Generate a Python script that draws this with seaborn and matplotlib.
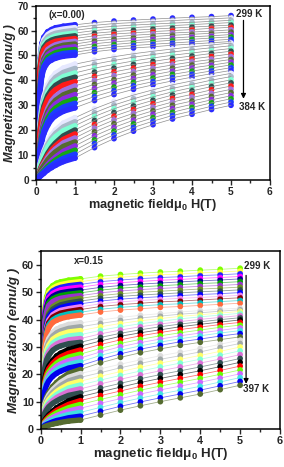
import matplotlib
matplotlib.use("Agg")
import matplotlib.pyplot as plt
from matplotlib.ticker import MultipleLocator
import seaborn as sns
import pandas as pd

# field grid (T) shared by every M(H) curve
H_GRID = [0, 0.05, 0.1, 0.15, 0.2, 0.3, 0.4, 0.5, 0.7, 1.0,
          1.5, 2.0, 2.5, 3.0, 3.5, 4.0, 4.5, 5.0]

# x = 0.00, 299 K (first row) ... 384 K (last row), emu/g
M_X000 = [
    [0, 28.0, 48.6, 54.8, 57.3, 59.5, 60.4, 61.1, 61.7, 62.3, 63.2, 63.8, 64.2, 64.6, 65.0, 65.3, 65.6, 66.0],
    [0, 27.5, 47.7, 53.9, 56.3, 58.4, 59.4, 60.0, 60.6, 61.2, 62.1, 62.8, 63.2, 63.6, 64.0, 64.4, 64.7, 65.1],
    [0, 27.0, 46.9, 52.9, 55.3, 57.4, 58.3, 58.9, 59.5, 60.1, 61.1, 61.7, 62.2, 62.6, 63.0, 63.3, 63.7, 64.1],
    [0, 26.6, 46.0, 51.9, 54.3, 56.3, 57.2, 57.8, 58.4, 59.0, 60.0, 60.7, 61.2, 61.6, 62.0, 62.4, 62.8, 63.2],
    [0, 26.1, 45.2, 51.0, 53.3, 55.3, 56.2, 56.7, 57.3, 57.9, 58.9, 59.6, 60.1, 60.6, 61.0, 61.4, 61.8, 62.2],
    [0, 25.6, 44.3, 50.0, 52.3, 54.2, 55.1, 55.7, 56.2, 56.8, 57.9, 58.6, 59.1, 59.6, 60.0, 60.4, 60.9, 61.3],
    [0, 21.2, 39.0, 46.2, 49.6, 52.4, 53.5, 54.3, 55.1, 55.7, 56.8, 57.5, 58.1, 58.6, 59.0, 59.4, 59.8, 60.3],
    [0, 20.7, 38.2, 45.3, 48.6, 51.3, 52.4, 53.2, 54.1, 54.6, 55.8, 56.5, 57.1, 57.6, 58.1, 58.5, 58.9, 59.4],
    [0, 20.3, 37.5, 44.4, 47.6, 50.3, 51.4, 52.2, 53.0, 53.5, 54.7, 55.5, 56.0, 56.5, 57.0, 57.5, 57.9, 58.4],
    [0, 19.9, 36.7, 43.5, 46.6, 49.3, 50.3, 51.1, 51.9, 52.4, 53.6, 54.4, 55.1, 55.6, 56.1, 56.5, 57.0, 57.5],
    [0, 19.5, 35.9, 42.6, 45.7, 48.2, 49.2, 50.0, 50.8, 51.3, 52.5, 53.4, 54.0, 54.5, 55.0, 55.5, 56.0, 56.5],
    [0, 19.1, 35.1, 41.7, 44.7, 47.2, 48.2, 48.9, 49.7, 50.2, 51.5, 52.4, 53.0, 53.5, 54.1, 54.6, 55.1, 55.6],
    [0, 11.6, 22.3, 29.3, 33.5, 38.1, 40.9, 42.8, 44.9, 46.5, 48.1, 49.5, 50.7, 51.7, 52.6, 53.5, 54.2, 55.0],
    [0, 11.2, 21.5, 28.2, 32.3, 36.7, 39.4, 41.2, 43.2, 44.8, 46.5, 48.0, 49.3, 50.4, 51.4, 52.3, 53.1, 53.9],
    [0, 10.8, 20.6, 27.1, 31.0, 35.3, 37.8, 39.6, 41.5, 43.0, 44.9, 46.4, 47.8, 49.0, 50.1, 51.0, 51.9, 52.8],
    [0, 10.3, 19.8, 26.0, 29.7, 33.9, 36.3, 38.0, 39.9, 41.3, 43.3, 44.9, 46.4, 47.6, 48.8, 49.8, 50.8, 51.7],
    [0, 9.9, 19.0, 24.9, 28.4, 32.4, 34.8, 36.3, 38.1, 39.5, 41.6, 43.4, 44.9, 46.3, 47.5, 48.6, 49.6, 50.6],
    [0, 7.6, 15.1, 20.4, 24.2, 28.7, 31.8, 33.6, 35.9, 37.8, 40.0, 41.9, 43.5, 44.9, 46.2, 47.4, 48.4, 49.5],
    [0, 7.2, 14.4, 19.4, 23.0, 27.4, 30.2, 32.0, 34.2, 36.0, 38.4, 40.3, 42.1, 43.6, 44.9, 46.2, 47.3, 48.4],
    [0, 6.9, 13.7, 18.5, 22.0, 26.1, 28.8, 30.5, 32.6, 34.3, 36.8, 38.9, 40.7, 42.2, 43.7, 45.0, 46.1, 47.3],
    [0, 6.5, 13.0, 17.6, 20.8, 24.7, 27.3, 28.9, 30.9, 32.5, 35.1, 37.3, 39.2, 40.9, 42.4, 43.7, 45.0, 46.2],
    [0, 6.2, 12.3, 16.6, 19.7, 23.4, 25.9, 27.4, 29.3, 30.8, 33.5, 35.8, 37.8, 39.5, 41.1, 42.5, 43.8, 45.1],
    [0, 5.8, 11.6, 15.7, 18.6, 22.0, 24.4, 25.8, 27.6, 29.0, 31.9, 34.3, 36.4, 38.2, 39.8, 41.3, 42.7, 44.0],
    [0, 3.0, 6.3, 9.0, 11.5, 15.3, 18.0, 20.0, 22.8, 25.0, 28.6, 31.6, 34.1, 36.2, 38.2, 39.8, 41.4, 42.8],
    [0, 2.8, 5.9, 8.4, 10.8, 14.3, 16.8, 18.7, 21.3, 23.4, 27.0, 30.1, 32.6, 34.8, 36.8, 38.4, 40.1, 41.5],
    [0, 2.6, 5.5, 7.8, 10.0, 13.3, 15.7, 17.4, 19.8, 21.8, 25.5, 28.6, 31.2, 33.4, 35.4, 37.1, 38.7, 40.2],
    [0, 2.0, 4.0, 6.0, 7.6, 10.7, 13.1, 14.9, 17.7, 20.1, 23.9, 27.1, 29.7, 32.0, 34.1, 35.8, 37.5, 39.0],
    [0, 1.9, 3.7, 5.6, 7.0, 9.8, 12.0, 13.7, 16.3, 18.5, 22.3, 25.6, 28.3, 30.6, 32.7, 34.4, 36.2, 37.7],
    [0, 1.7, 3.4, 5.1, 6.4, 9.0, 11.0, 12.5, 14.9, 16.9, 20.8, 24.1, 26.8, 29.2, 31.3, 33.1, 34.8, 36.4],
    [0, 1.5, 3.1, 4.6, 5.8, 8.1, 9.9, 11.3, 13.5, 15.3, 19.3, 22.6, 25.4, 27.8, 30.0, 31.7, 33.5, 35.1],
    [0, 1.1, 2.2, 3.3, 4.2, 6.2, 7.8, 9.2, 11.5, 13.7, 17.7, 21.1, 24.0, 26.4, 28.6, 30.4, 32.2, 33.8],
    [0, 1.0, 1.9, 2.9, 3.7, 5.4, 6.8, 8.0, 10.1, 12.0, 16.1, 19.6, 22.5, 25.0, 27.2, 29.1, 31.0, 32.6],
    [0, 0.8, 1.7, 2.5, 3.2, 4.7, 5.9, 7.0, 8.7, 10.4, 14.6, 18.1, 21.1, 23.6, 25.9, 27.7, 29.6, 31.3],
    [0, 0.7, 1.4, 2.1, 2.7, 4.0, 5.0, 5.9, 7.4, 8.8, 13.0, 16.6, 19.6, 22.2, 24.5, 26.4, 28.3, 30.0],
]

# x = 0.15, 299 K (first row) ... 397 K (last row), emu/g
M_X015 = [
    [0, 27.5, 43.9, 48.3, 50.8, 52.4, 53.3, 53.8, 54.4, 54.9, 55.9, 56.5, 57.0, 57.4, 57.7, 58.1, 58.4, 58.8],
    [0, 27.0, 43.1, 47.4, 49.9, 51.5, 52.3, 52.8, 53.4, 53.9, 54.9, 55.5, 56.0, 56.4, 56.7, 57.1, 57.4, 57.8],
    [0, 26.5, 42.3, 46.6, 48.9, 50.5, 51.3, 51.8, 52.4, 52.9, 53.9, 54.5, 55.0, 55.4, 55.7, 56.1, 56.4, 56.8],
    [0, 26.0, 41.5, 45.7, 48.0, 49.6, 50.3, 50.9, 51.4, 51.9, 52.9, 53.5, 54.0, 54.4, 54.7, 55.1, 55.4, 55.8],
    [0, 25.4, 40.6, 44.7, 47.0, 48.5, 49.3, 49.8, 50.3, 50.8, 51.8, 52.5, 53.0, 53.4, 53.8, 54.2, 54.5, 54.9],
    [0, 24.9, 39.8, 43.8, 46.1, 47.6, 48.3, 48.8, 49.3, 49.8, 50.8, 51.5, 52.0, 52.4, 52.8, 53.2, 53.5, 53.9],
    [0, 24.4, 39.0, 42.9, 45.1, 46.6, 47.3, 47.8, 48.3, 48.8, 49.8, 50.5, 51.0, 51.4, 51.8, 52.2, 52.5, 52.9],
    [0, 20.1, 34.4, 39.7, 42.5, 44.7, 45.6, 46.4, 47.1, 47.8, 48.8, 49.5, 50.0, 50.4, 50.8, 51.2, 51.5, 51.9],
    [0, 19.7, 33.7, 38.8, 41.7, 43.8, 44.7, 45.4, 46.1, 46.8, 47.8, 48.5, 49.0, 49.4, 49.8, 50.2, 50.5, 50.9],
    [0, 19.2, 33.0, 38.0, 40.8, 42.8, 43.7, 44.4, 45.1, 45.8, 46.8, 47.5, 48.0, 48.4, 48.8, 49.2, 49.5, 49.9],
    [0, 18.8, 32.2, 37.1, 39.8, 41.8, 42.7, 43.4, 44.0, 44.7, 45.8, 46.5, 47.0, 47.4, 47.8, 48.1, 48.5, 48.9],
    [0, 18.4, 31.5, 36.3, 38.9, 40.9, 41.7, 42.4, 43.0, 43.7, 44.8, 45.5, 46.0, 46.5, 46.8, 47.2, 47.6, 48.0],
    [0, 17.9, 30.7, 35.4, 38.0, 39.9, 40.8, 41.4, 42.1, 42.7, 43.8, 44.5, 45.0, 45.5, 45.8, 46.2, 46.6, 47.0],
    [0, 17.5, 30.0, 34.6, 37.1, 39.0, 39.8, 40.4, 41.1, 41.7, 42.8, 43.5, 44.0, 44.5, 44.8, 45.2, 45.6, 46.0],
    [0, 17.5, 27.2, 31.0, 33.0, 35.3, 36.5, 37.2, 38.2, 38.8, 39.9, 40.8, 41.6, 42.2, 42.8, 43.3, 43.8, 44.2],
    [0, 16.8, 26.2, 29.9, 31.8, 34.0, 35.2, 35.9, 36.8, 37.4, 38.6, 39.7, 40.6, 41.3, 42.0, 42.5, 43.1, 43.6],
    [0, 16.2, 25.2, 28.8, 30.6, 32.8, 33.8, 34.6, 35.5, 36.0, 37.4, 38.6, 39.6, 40.4, 41.2, 41.8, 42.4, 43.0],
    [0, 15.5, 24.2, 27.6, 29.3, 31.4, 32.4, 33.1, 34.0, 34.5, 36.1, 37.4, 38.5, 39.4, 40.3, 41.0, 41.7, 42.3],
    [0, 14.9, 23.2, 26.5, 28.1, 30.1, 31.1, 31.8, 32.6, 33.1, 34.8, 36.2, 37.4, 38.4, 39.3, 40.1, 40.8, 41.5],
    [0, 14.3, 22.2, 25.4, 26.9, 28.8, 29.8, 30.4, 31.2, 31.7, 33.5, 35.0, 36.3, 37.4, 38.4, 39.2, 40.0, 40.7],
    [0, 11.2, 18.2, 21.2, 23.0, 25.1, 26.7, 27.7, 29.1, 30.3, 32.2, 33.9, 35.2, 36.3, 37.4, 38.3, 39.1, 39.9],
    [0, 10.7, 17.3, 20.2, 22.0, 24.0, 25.4, 26.4, 27.7, 28.9, 30.9, 32.6, 34.1, 35.3, 36.4, 37.3, 38.2, 39.0],
    [0, 10.1, 16.4, 19.2, 20.8, 22.7, 24.1, 25.1, 26.3, 27.4, 29.5, 31.3, 32.8, 34.1, 35.2, 36.2, 37.2, 38.0],
    [0, 9.6, 15.6, 18.2, 19.8, 21.6, 22.9, 23.8, 25.0, 26.0, 28.2, 30.1, 31.6, 32.9, 34.1, 35.1, 36.1, 37.0],
    [0, 9.1, 14.8, 17.2, 18.7, 20.4, 21.6, 22.5, 23.6, 24.6, 26.9, 28.8, 30.4, 31.8, 33.0, 34.1, 35.1, 36.0],
    [0, 8.6, 13.9, 16.2, 17.6, 19.3, 20.4, 21.2, 22.3, 23.2, 25.5, 27.5, 29.2, 30.6, 31.9, 32.9, 34.0, 34.9],
    [0, 5.7, 9.6, 11.8, 13.3, 15.5, 17.0, 18.3, 20.3, 21.8, 24.2, 26.2, 27.9, 29.3, 30.6, 31.7, 32.7, 33.7],
    [0, 5.3, 8.9, 11.0, 12.4, 14.4, 15.8, 17.1, 18.9, 20.3, 22.0, 23.7, 25.3, 26.8, 28.1, 29.5, 31.0, 32.5],
    [0, 4.9, 8.3, 10.2, 11.5, 13.4, 14.7, 15.9, 17.6, 18.9, 20.6, 22.4, 24.0, 25.5, 26.8, 28.2, 29.8, 31.3],
    [0, 4.6, 7.7, 9.5, 10.7, 12.4, 13.7, 14.7, 16.3, 17.5, 19.3, 21.0, 22.6, 24.1, 25.5, 26.9, 28.4, 30.0],
    [0, 4.2, 7.1, 8.7, 9.8, 11.4, 12.6, 13.5, 15.0, 16.1, 17.9, 19.6, 21.2, 22.7, 24.1, 25.5, 27.0, 28.6],
    [0, 3.8, 6.5, 7.9, 9.0, 10.4, 11.5, 12.3, 13.7, 14.7, 16.5, 18.2, 19.8, 21.3, 22.7, 24.1, 25.6, 27.2],
    [0, 3.4, 5.8, 7.1, 8.1, 9.4, 10.3, 11.1, 12.3, 13.2, 15.0, 16.7, 18.4, 19.9, 21.3, 22.7, 24.2, 25.8],
    [0, 1.8, 3.2, 4.2, 5.1, 6.5, 7.7, 8.6, 10.3, 11.8, 13.6, 15.3, 17.0, 18.5, 19.9, 21.3, 22.8, 24.4],
    [0, 1.6, 2.8, 3.7, 4.5, 5.7, 6.8, 7.6, 9.0, 10.4, 12.2, 13.9, 15.6, 17.1, 18.5, 19.9, 21.4, 23.0],
    [0, 1.4, 2.4, 3.2, 3.9, 5.0, 5.9, 6.6, 7.8, 9.0, 10.8, 12.5, 14.2, 15.7, 17.1, 18.5, 20.0, 21.6],
    [0, 1.1, 2.1, 2.7, 3.3, 4.2, 4.9, 5.5, 6.6, 7.6, 9.4, 11.1, 12.8, 14.3, 15.7, 17.1, 18.6, 20.2],
    [0, 0.9, 1.6, 2.2, 2.6, 3.4, 4.0, 4.5, 5.3, 6.1, 7.9, 9.7, 11.3, 12.8, 14.2, 15.6, 17.2, 18.8],
    [0, 0.7, 1.3, 1.7, 2.0, 2.6, 3.1, 3.4, 4.1, 4.7, 6.5, 8.3, 9.9, 11.4, 12.8, 14.2, 15.8, 17.4],
    [0, 0.5, 0.9, 1.2, 1.4, 1.8, 2.1, 2.4, 2.9, 3.3, 5.1, 6.9, 8.5, 10.0, 11.4, 12.8, 14.4, 16.0],
]

TOP_CYCLE = ['#2b2bff', '#e6e8ff', '#a9b9c9', '#7fffd4', '#2f4f4f', '#ff1a1a',
             '#a070e0', '#556b2f', '#8a2be2', '#14a814', '#1c3cff']
FM_CYCLE = ['#7fff00', '#ffff33', '#2020ff', '#ff00ff', '#000090', '#00a000', '#9932cc',
            '#6b8e23', '#2f4f4f', '#0000ff', '#ee82ee', '#800000', '#00c0c0', '#ff6a3d']
PM_CYCLE = ['#dcdcdc', '#a0a8a8', '#ffff66', '#7fffd4', '#da70d6', '#2f4f4f', '#000000',
            '#ff0000', '#66ff00', '#cc66ff', '#40e0e0', '#0000ee', '#556b2f']


def to_long(table):
    rows = []
    for i, curve in enumerate(table):
        for h, m in zip(H_GRID, curve):
            rows.append({'H': h, 'M': m, 'curve': f'c{i:02d}'})
    return pd.DataFrame(rows)


def draw_panel(ax, df, colors, line_color=None):
    pal = {f'c{i:02d}': c for i, c in enumerate(colors)}
    if line_color:
        sns.lineplot(data=df, x='H', y='M', units='curve', estimator=None, color=line_color,
                     lw=0.5, sort=False, ax=ax)
    else:
        sns.lineplot(data=df, x='H', y='M', hue='curve', palette=pal, estimator=None,
                     lw=0.6, alpha=0.55, sort=False, legend=False, ax=ax)
    low = df[df['H'] <= 1.0]
    sns.lineplot(data=low, x='H', y='M', hue='curve', palette=pal, estimator=None,
                 lw=3.9, sort=False, legend=False, ax=ax, solid_capstyle='round')
    sns.scatterplot(data=df, x='H', y='M', hue='curve', palette=pal, s=17,
                    linewidth=0, legend=False, ax=ax)


def style_axes(ax, ymax, ystep, tick_fs, label_fs):
    ax.set_xlim(0, 6)
    ax.set_ylim(0, ymax)
    ax.xaxis.set_major_locator(MultipleLocator(1))
    ax.xaxis.set_minor_locator(MultipleLocator(0.5))
    ax.yaxis.set_major_locator(MultipleLocator(ystep))
    ax.yaxis.set_minor_locator(MultipleLocator(ystep / 2))
    ax.tick_params(which='major', direction='out', length=3.5, width=1, labelsize=tick_fs, pad=1.5)
    ax.tick_params(which='minor', direction='out', length=2, width=1)
    for lab in ax.get_xticklabels() + ax.get_yticklabels():
        lab.set_fontweight('bold')
    for sp in ax.spines.values():
        sp.set_visible(True)
        sp.set_linewidth(1.1)
        sp.set_color('black')
    ax.set_xlabel('magnetic field\u03bc$_\\mathbf{0}$ H(T)', fontsize=label_fs, fontweight='bold', labelpad=0)
    ax.set_ylabel('Magnetization (emu/g )', fontsize=label_fs, fontweight='bold',
                  fontstyle='italic', labelpad=1)
    ax.grid(False)


sns.set_theme(style='ticks')
plt.rcParams['font.family'] = ['Liberation Sans', 'DejaVu Sans']
plt.rcParams['mathtext.fontset'] = 'custom'
plt.rcParams['mathtext.bf'] = 'Liberation Sans:bold'
plt.rcParams['mathtext.rm'] = 'Liberation Sans'

fig = plt.figure(figsize=(2.84, 4.67), dpi=100)
ax1 = fig.add_axes([0.1268, 0.6146, 0.8239, 0.3733])
ax2 = fig.add_axes([0.1433, 0.0814, 0.8426, 0.3805])

top_colors = [TOP_CYCLE[i % len(TOP_CYCLE)] for i in range(len(M_X000))]
draw_panel(ax1, to_long(M_X000), top_colors, line_color='#8e8e8e')
style_axes(ax1, 70, 10, 7.3, 9.2)
ax1.text(0.31, 66.3, '(x=0.00)', fontsize=7, fontweight='bold', va='center')
ax1.text(5.14, 66.6, '299 K', fontsize=7, fontweight='bold', va='center')
ax1.text(5.2, 29.5, '384 K', fontsize=7, fontweight='bold', va='center')
ax1.annotate('', xy=(5.32, 31.5), xytext=(5.32, 65.2),
             arrowprops=dict(arrowstyle='-|>', color='black', lw=0.9, mutation_scale=7))

n_fm = 14
bot_colors = [FM_CYCLE[i] for i in range(n_fm)] + \
             [PM_CYCLE[i % len(PM_CYCLE)] for i in range(len(M_X015) - n_fm)]
draw_panel(ax2, to_long(M_X015), bot_colors)
style_axes(ax2, 65, 10, 7.8, 9.6)
ax2.text(0.84, 61.5, 'x=0.15', fontsize=7, fontweight='bold', va='center')
ax2.text(5.09, 59.6, '299 K', fontsize=7, fontweight='bold', va='center')
ax2.text(5.06, 14.6, '397 K', fontsize=7, fontweight='bold', va='center')
ax2.annotate('', xy=(5.15, 15.5), xytext=(5.15, 57.2),
             arrowprops=dict(arrowstyle='-|>', color='black', lw=0.9, mutation_scale=7))

fig.savefig('out.png', dpi=100)
